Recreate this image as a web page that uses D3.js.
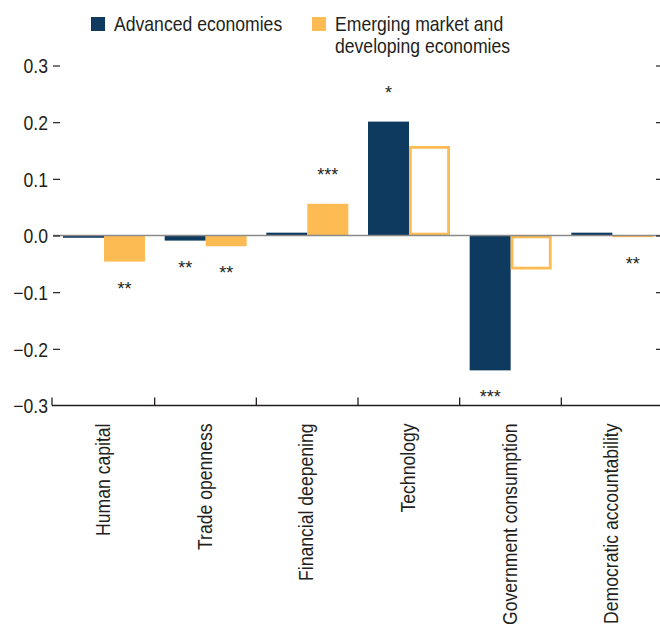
<!DOCTYPE html>
<html><head><meta charset="utf-8">
<script src="https://cdn.jsdelivr.net/npm/d3@7"></script>
<style>
body{margin:0;background:#fff}
svg{display:block}
text{font-family:"Liberation Sans Narrow","Liberation Sans",Arial,sans-serif;fill:#231f20}
</style>
</head><body><svg id="c" width="660" height="624"></svg>
<script>
const categories = ["Human capital","Trade openness","Financial deepening","Technology","Government consumption","Democratic accountability"];
const seriesNames = ["Advanced economies","Emerging market and developing economies"];
const advanced = [-0.004,-0.009,0.005,0.201,-0.238,0.005];
const emerging = [-0.046,-0.019,0.056,0.158,-0.060,-0.003];
const advancedStars = ["","**","","*","***",""];
const emergingStars = ["**","**","***","","","**"];
const advancedHollow = [false,false,false,false,false,false];
const emergingHollow = [false,false,false,true,true,false];
const yTicks = [-0.3,-0.2,-0.1,0,0.1,0.2,0.3];
const colors = ["#0d3a5e","#fdbb54"];

const K = 0.88; // horizontal condensing of the text
const FS = 20;
const svg = d3.select("#c");
const L = 53, R = 663, T = 65.5, B = 405.5;
const y = d3.scaleLinear().domain([-0.3,0.3]).range([B,T]);
const x0 = d3.scaleBand().domain(categories).range([L,R]).padding(0);
const x1 = d3.scaleBand().domain([0,1]).range([10,92]).padding(0);

const series = [
  {vals: advanced, stars: advancedStars, hollow: advancedHollow},
  {vals: emerging, stars: emergingStars, hollow: emergingHollow}
];

// bars
series.forEach((s,si)=>{
  const g = svg.append("g");
  categories.forEach((c,i)=>{
    const v = s.vals[i];
    const hollow = s.hollow[i];
    const x = x0(c)+x1(si), w = x1.bandwidth();
    const y1 = y(Math.max(0,v)), y2 = y(Math.min(0,v));
    if(hollow){
      g.append("rect").attr("x",x+1.4).attr("y",y1+1.4).attr("width",w-2.8).attr("height",Math.max(0,y2-y1-2.8))
        .attr("fill","#fff").attr("stroke",colors[si]).attr("stroke-width",2.8);
    } else {
      g.append("rect").attr("x",x).attr("y",y1).attr("width",w).attr("height",y2-y1).attr("fill",colors[si]);
    }
    if(s.stars[i]){
      g.append("text").attr("x",x+w/2).attr("y", v<0 ? y(v)+33 : y(v)-23)
        .attr("text-anchor","middle").attr("font-size",18).text(s.stars[i]);
    }
  });
});

// zero line
svg.append("line").attr("x1",L).attr("x2",R).attr("y1",y(0)).attr("y2",y(0))
  .attr("stroke","#8a8a8a").attr("stroke-width",1.5);

// left axis
const ya = svg.append("g").attr("transform",`translate(${L},0)`)
  .call(d3.axisRight(y).tickValues(yTicks).tickSize(7).tickFormat(d=>d3.format(".1f")(d).replace("-","\u2013")));
ya.select(".domain").remove();
ya.selectAll(".tick line").attr("stroke","#231f20").attr("stroke-width",1.2).filter(d=>d===-0.3).remove();
ya.selectAll(".tick text").attr("x",-5/K).attr("dy","0.36em").attr("transform",`scale(${K},1)`)
  .attr("text-anchor","end").attr("font-size",FS).attr("fill","#231f20").attr("font-family",null);

// right ticks
const ra = svg.append("g").attr("transform",`translate(${R},0)`)
  .call(d3.axisLeft(y).tickValues(yTicks.filter(d=>d>-0.3)).tickSize(7).tickFormat(""));
ra.select(".domain").remove();
ra.selectAll(".tick line").attr("stroke","#231f20").attr("stroke-width",1.2);

// bottom axis
svg.append("line").attr("x1",L-1).attr("x2",R).attr("y1",B).attr("y2",B).attr("stroke","#231f20").attr("stroke-width",1.3);
const bounds = categories.map(c=>x0(c)).concat([R]);
svg.append("g").selectAll("line").data(bounds).join("line")
  .attr("x1",(d,i)=>i===0?d-1:d).attr("x2",(d,i)=>i===0?d-1:d).attr("y1",B-8).attr("y2",B)
  .attr("stroke","#231f20").attr("stroke-width",1.3);

// category labels
svg.append("g").selectAll("text").data(categories).join("text")
  .attr("transform",d=>`translate(${x0(d)+x0.bandwidth()/2+6},${B+18}) rotate(-90) scale(${K},1)`)
  .attr("text-anchor","end").attr("font-size",FS).text(d=>d);

// legend
const lg = svg.append("g");
lg.append("rect").attr("x",91).attr("y",17).attr("width",14).attr("height",14).attr("fill",colors[0]);
lg.append("text").attr("transform",`translate(114,31) scale(${K},1)`).attr("font-size",FS).text(seriesNames[0]);
lg.append("rect").attr("x",312).attr("y",17).attr("width",14).attr("height",14).attr("fill",colors[1]);
const t2 = lg.append("text").attr("transform",`translate(335,31) scale(${K},1)`).attr("font-size",FS);
t2.append("tspan").attr("x",0).text("Emerging market and");
t2.append("tspan").attr("x",0).attr("dy",22).text("developing economies");
</script>
</body></html>
